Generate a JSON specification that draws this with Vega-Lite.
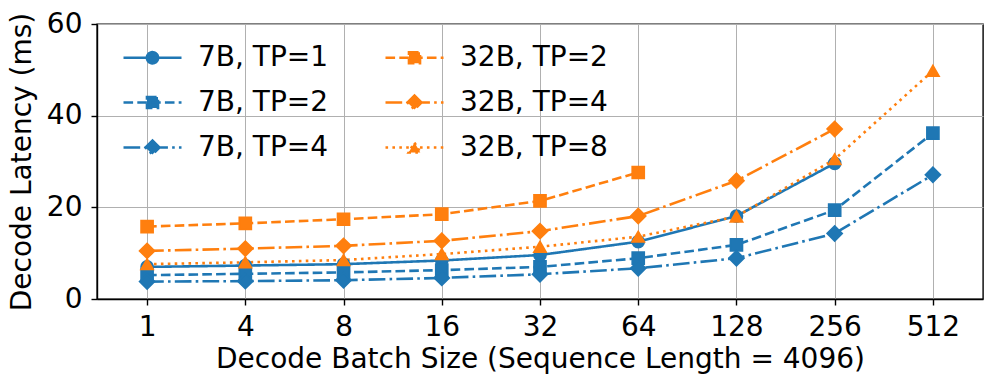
{
  "$schema": "https://vega.github.io/schema/vega-lite/v6.json",
  "width": 886,
  "height": 275,
  "autosize": {"type": "none"},
  "padding": {"left": 97, "top": 24, "right": 14, "bottom": 90},
  "background": "white",
  "config": {
    "font": "DejaVu Sans",
    "view": {"stroke": "black", "strokeWidth": 1.4},
    "axis": {
      "labelFont": "DejaVu Sans",
      "titleFont": "DejaVu Sans",
      "labelFontSize": 28,
      "titleFontSize": 28,
      "titleFontWeight": "normal",
      "labelColor": "black",
      "titleColor": "black",
      "domainColor": "black",
      "domainWidth": 1.4,
      "tickColor": "black",
      "tickWidth": 1.4,
      "tickSize": 6,
      "gridColor": "#b0b0b0",
      "gridWidth": 1
    },
    "legend": {
      "labelFont": "DejaVu Sans",
      "labelFontSize": 28,
      "labelColor": "black"
    }
  },
  "data": {
    "values": [
      {"batch": "1", "series": "7B, TP=1", "latency": 7.0},
      {"batch": "4", "series": "7B, TP=1", "latency": 7.3},
      {"batch": "8", "series": "7B, TP=1", "latency": 7.6},
      {"batch": "16", "series": "7B, TP=1", "latency": 8.4},
      {"batch": "32", "series": "7B, TP=1", "latency": 9.6},
      {"batch": "64", "series": "7B, TP=1", "latency": 12.5},
      {"batch": "128", "series": "7B, TP=1", "latency": 18.1},
      {"batch": "256", "series": "7B, TP=1", "latency": 29.6},
      {"batch": "1", "series": "7B, TP=2", "latency": 5.2},
      {"batch": "4", "series": "7B, TP=2", "latency": 5.5},
      {"batch": "8", "series": "7B, TP=2", "latency": 5.8},
      {"batch": "16", "series": "7B, TP=2", "latency": 6.3},
      {"batch": "32", "series": "7B, TP=2", "latency": 7.0},
      {"batch": "64", "series": "7B, TP=2", "latency": 8.9},
      {"batch": "128", "series": "7B, TP=2", "latency": 11.8},
      {"batch": "256", "series": "7B, TP=2", "latency": 19.4},
      {"batch": "512", "series": "7B, TP=2", "latency": 36.2},
      {"batch": "1", "series": "7B, TP=4", "latency": 3.8},
      {"batch": "4", "series": "7B, TP=4", "latency": 3.9},
      {"batch": "8", "series": "7B, TP=4", "latency": 4.1},
      {"batch": "16", "series": "7B, TP=4", "latency": 4.6},
      {"batch": "32", "series": "7B, TP=4", "latency": 5.4},
      {"batch": "64", "series": "7B, TP=4", "latency": 6.7},
      {"batch": "128", "series": "7B, TP=4", "latency": 8.9},
      {"batch": "256", "series": "7B, TP=4", "latency": 14.3},
      {"batch": "512", "series": "7B, TP=4", "latency": 27.1},
      {"batch": "1", "series": "32B, TP=2", "latency": 15.8},
      {"batch": "4", "series": "32B, TP=2", "latency": 16.5},
      {"batch": "8", "series": "32B, TP=2", "latency": 17.4},
      {"batch": "16", "series": "32B, TP=2", "latency": 18.5},
      {"batch": "32", "series": "32B, TP=2", "latency": 21.4},
      {"batch": "64", "series": "32B, TP=2", "latency": 27.6},
      {"batch": "1", "series": "32B, TP=4", "latency": 10.5},
      {"batch": "4", "series": "32B, TP=4", "latency": 11.0},
      {"batch": "8", "series": "32B, TP=4", "latency": 11.6},
      {"batch": "16", "series": "32B, TP=4", "latency": 12.7},
      {"batch": "32", "series": "32B, TP=4", "latency": 14.8},
      {"batch": "64", "series": "32B, TP=4", "latency": 18.1},
      {"batch": "128", "series": "32B, TP=4", "latency": 25.8},
      {"batch": "256", "series": "32B, TP=4", "latency": 37.1},
      {"batch": "1", "series": "32B, TP=8", "latency": 7.6},
      {"batch": "4", "series": "32B, TP=8", "latency": 8.0},
      {"batch": "8", "series": "32B, TP=8", "latency": 8.5},
      {"batch": "16", "series": "32B, TP=8", "latency": 9.8},
      {"batch": "32", "series": "32B, TP=8", "latency": 11.4},
      {"batch": "64", "series": "32B, TP=8", "latency": 13.6},
      {"batch": "128", "series": "32B, TP=8", "latency": 18.0},
      {"batch": "256", "series": "32B, TP=8", "latency": 30.5},
      {"batch": "512", "series": "32B, TP=8", "latency": 49.8}
    ]
  },
  "encoding": {
    "x": {
      "field": "batch",
      "type": "ordinal",
      "sort": ["1", "4", "8", "16", "32", "64", "128", "256", "512"],
      "scale": {"type": "point", "padding": 0.51},
      "axis": {
        "labelAngle": 0,
        "grid": true,
        "labelPadding": 8,
        "title": "Decode Batch Size (Sequence Length = 4096)",
        "titlePadding": 4
      }
    },
    "y": {
      "field": "latency",
      "type": "quantitative",
      "scale": {"domain": [0, 60], "nice": false, "zero": true},
      "axis": {
        "values": [0, 20, 40, 60],
        "grid": true,
        "labelPadding": 9,
        "title": "Decode Latency (ms)",
        "titlePadding": 10
      }
    },
    "color": {
      "field": "series",
      "type": "nominal",
      "scale": {
        "domain": ["7B, TP=1", "7B, TP=2", "7B, TP=4", "32B, TP=2", "32B, TP=4", "32B, TP=8"],
        "range": ["#1f77b4", "#1f77b4", "#1f77b4", "#ff7f0e", "#ff7f0e", "#ff7f0e"]
      },
      "legend": {
        "title": null,
        "orient": "none",
        "legendX": 25,
        "legendY": 3,
        "columns": 2,
        "padding": 0,
        "symbolSize": 3364,
        "symbolStrokeWidth": 2.6,
        "labelOffset": 15,
        "columnPadding": 51,
        "rowPadding": 0,
        "encode": {
          "symbols": {
            "update": {
              "shape": {"signal": "datum.value === '7B, TP=1' ? 'M-1,0L1,0M0.193,0C0.193,0.1066 0.1066,0.193 0,0.193C-0.1066,0.193 -0.193,0.1066 -0.193,0C-0.193,-0.1066 -0.1066,-0.193 0,-0.193C0.1066,-0.193 0.193,-0.1066 0.193,0Z' : (datum.value === '7B, TP=2' || datum.value === '32B, TP=2') ? 'M-1,0L-0.669,0M-0.524,0L-0.193,0M-0.048,0L0.283,0M0.428,0L0.759,0M0.903,0L1,0M-0.19,-0.19L0.19,-0.19L0.19,0.19L-0.19,0.19Z' : (datum.value === '7B, TP=4' || datum.value === '32B, TP=4') ? 'M-1,0L-0.424,0M-0.279,0L-0.189,0M-0.044,0L0.532,0M0.677,0L0.767,0M0.912,0L1,0M0,-0.24L0.24,0L0,0.24L-0.24,0Z' : 'M-1,0L-0.91,0M-0.762,0L-0.672,0M-0.524,0L-0.434,0M-0.286,0L-0.196,0M0.19,0L0.28,0M0.428,0L0.518,0M0.666,0L0.756,0M0.904,0L0.994,0M0,-0.17L0.2,0.17L-0.2,0.17Z'"},
              "fill": {"signal": "indexof(datum.value, '7B') === 0 ? '#1f77b4' : '#ff7f0e'"},
              "stroke": {"signal": "indexof(datum.value, '7B') === 0 ? '#1f77b4' : '#ff7f0e'"},
              "strokeDash": {"value": [1, 0]},
              "strokeWidth": {"value": 2.6},
              "size": {"value": 3364},
              "opacity": {"value": 1}
            }
          }
        }
      }
    }
  },
  "layer": [
    {
      "mark": {"type": "line", "strokeWidth": 2.6},
      "encoding": {
        "detail": {"field": "series"},
        "strokeDash": {
          "field": "series",
          "type": "nominal",
          "scale": {
            "domain": ["7B, TP=1", "7B, TP=2", "7B, TP=4", "32B, TP=2", "32B, TP=4", "32B, TP=8"],
            "range": [[1, 0], [9.6, 4.2], [16.7, 4.2, 2.6, 4.2], [9.6, 4.2], [16.7, 4.2, 2.6, 4.2], [2.6, 4.3]]
          },
          "legend": null
        }
      }
    },
    {
      "transform": [{"filter": "datum.series === '7B, TP=1'"}],
      "mark": {"type": "point", "shape": "circle", "size": 144, "filled": true, "opacity": 1, "strokeWidth": 1.7, "stroke": "#1f77b4"}
    },
    {
      "transform": [{"filter": "datum.series === '7B, TP=2'"}],
      "mark": {"type": "point", "shape": "square", "size": 144, "filled": true, "opacity": 1, "strokeWidth": 1.7, "stroke": "#1f77b4"}
    },
    {
      "transform": [{"filter": "datum.series === '7B, TP=4'"}],
      "mark": {"type": "point", "shape": "diamond", "size": 225, "filled": true, "opacity": 1, "strokeWidth": 1.7, "stroke": "#1f77b4"}
    },
    {
      "transform": [{"filter": "datum.series === '32B, TP=2'"}],
      "mark": {"type": "point", "shape": "square", "size": 144, "filled": true, "opacity": 1, "strokeWidth": 1.7, "stroke": "#ff7f0e"}
    },
    {
      "transform": [{"filter": "datum.series === '32B, TP=4'"}],
      "mark": {"type": "point", "shape": "diamond", "size": 225, "filled": true, "opacity": 1, "strokeWidth": 1.7, "stroke": "#ff7f0e"}
    },
    {
      "transform": [{"filter": "datum.series === '32B, TP=8'"}],
      "mark": {"type": "point", "shape": "triangle-up", "size": 150, "filled": true, "opacity": 1, "strokeWidth": 1.7, "stroke": "#ff7f0e"}
    }
  ]
}
